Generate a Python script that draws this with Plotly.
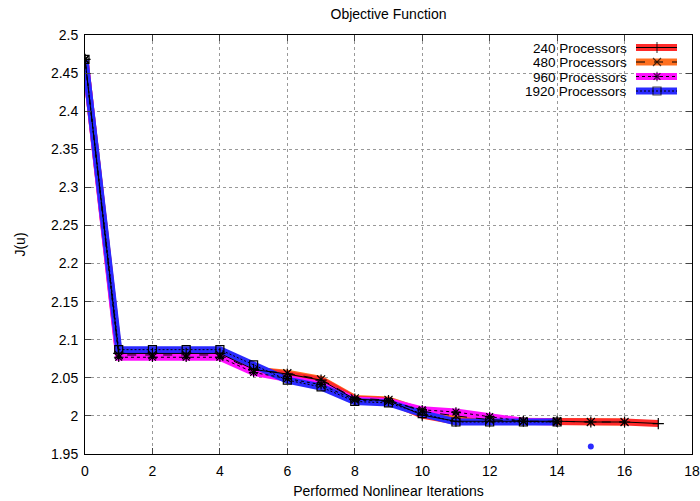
import plotly.graph_objects as go

iters_240 = list(range(0, 18))
j_240 = [2.468, 2.082, 2.082, 2.082, 2.082, 2.061, 2.055, 2.047, 2.022, 2.020,
         2.001, 1.993, 1.993, 1.993, 1.993, 1.992, 1.992, 1.990]
iters_480 = list(range(0, 17))
j_480 = [2.468, 2.080, 2.080, 2.080, 2.080, 2.060, 2.056, 2.048, 2.023, 2.021,
         2.006, 2.000, 1.995, 1.993, 1.993, 1.992, 1.992]
iters_960 = list(range(0, 15))
j_960 = [2.468, 2.077, 2.077, 2.077, 2.077, 2.057, 2.049, 2.041, 2.021, 2.019,
         2.008, 2.005, 1.999, 1.993, 1.992]
iters_1920 = list(range(0, 15))
j_1920 = [2.468, 2.087, 2.087, 2.087, 2.087, 2.067, 2.047, 2.038, 2.019, 2.017,
          2.003, 1.992, 1.992, 1.992, 1.992]
extra_x = [15]
extra_y = [1.960]

labels = ["240 Processors", "480 Processors", "960 Processors", "1920 Processors"]
colors = ["#ff2a2a", "#ff7020", "#ff10ff", "#2a2aff"]
dashes = ["solid", "dash", "dot", "2px,2px"]
symbols = ["cross-thin-open", "x-thin-open", "asterisk-open", "square-open"]
series = [(iters_240, j_240), (iters_480, j_480), (iters_960, j_960), (iters_1920, j_1920)]

font = "Liberation Sans, Arial, sans-serif"
fig = go.Figure()

# thick coloured bands
for i in [1, 0, 2, 3]:
    x, y = series[i]
    fig.add_trace(go.Scatter(x=x, y=y, mode="lines", showlegend=False,
                             line=dict(color=colors[i], width=7)))
# black thin overlays with markers
for i in range(4):
    x, y = series[i]
    fig.add_trace(go.Scatter(x=x, y=y, mode="lines+markers", showlegend=False,
                             line=dict(color="black", width=1, dash=dashes[i]),
                             marker=dict(symbol=symbols[i], size=8, color="black",
                                         line=dict(color="black", width=1.2))))
fig.add_trace(go.Scatter(x=extra_x, y=extra_y, mode="markers", showlegend=False,
                         marker=dict(color="#2a2aff", size=6)))

# manual legend (pixel coordinates on overlay axes)
leg_y = [47.5, 62, 76.5, 91]
for i in range(4):
    fig.add_trace(go.Scatter(x=[636, 677], y=[leg_y[i], leg_y[i]], xaxis="x2", yaxis="y2",
                             mode="lines", showlegend=False, hoverinfo="skip",
                             line=dict(color=colors[i], width=7)))
    fig.add_trace(go.Scatter(x=[636, 657, 677], y=[leg_y[i]] * 3, xaxis="x2", yaxis="y2",
                             mode="lines+markers", showlegend=False, hoverinfo="skip",
                             line=dict(color="black", width=1, dash=dashes[i]),
                             marker=dict(symbol=[symbols[i] if k == 1 else "circle" for k in range(3)],
                                         size=[8 if k == 1 else 0 for k in range(3)],
                                         color="black", line=dict(color="black", width=1.2))))
    fig.add_annotation(x=628, y=leg_y[i], xref="x2", yref="y2", text=labels[i],
                       showarrow=False, xanchor="right", yanchor="middle",
                       height=14, borderpad=0,
                       font=dict(family=font, size=13.5, color="black"))

yt = [1.95 + 0.05 * k for k in range(12)]
fig.update_layout(
    width=700, height=501,
    margin=dict(l=85, r=8, t=35, b=47),
    paper_bgcolor="white", plot_bgcolor="white",
    font=dict(family=font, size=14, color="black"),
    title=dict(text="Objective Function", x=(85 + 692) / 2 / 700, xanchor="center",
               y=1 - 14 / 501, yanchor="middle", font=dict(size=14)),
    xaxis=dict(range=[0, 18], tickvals=list(range(0, 19, 2)), ticks="inside", ticklen=6,
               showline=True, linecolor="black", linewidth=1, mirror="ticks",
               showgrid=True, gridcolor="#999999", griddash="dot", gridwidth=1,
               tickfont=dict(size=14), ticklabelstandoff=4, automargin=False,
               zeroline=False, title=dict(text="Performed Nonlinear Iterations", standoff=8,
                                          font=dict(size=14))),
    yaxis=dict(range=[1.95, 2.5], tickvals=yt, ticktext=[f"{v:g}" for v in [round(t, 2) for t in yt]],
               ticks="inside", ticklen=6, tickfont=dict(size=14), ticklabelstandoff=3,
               automargin=False,
               showline=True, linecolor="black", linewidth=1, mirror="ticks",
               showgrid=True, gridcolor="#999999", griddash="dot", gridwidth=1,
               zeroline=False, title=dict(text="J(u)", standoff=22, font=dict(size=14))),
    xaxis2=dict(overlaying="x", range=[85, 692], visible=False, fixedrange=True),
    yaxis2=dict(overlaying="y", range=[454, 35], visible=False, fixedrange=True),
)
fig.write_html("out.html")
